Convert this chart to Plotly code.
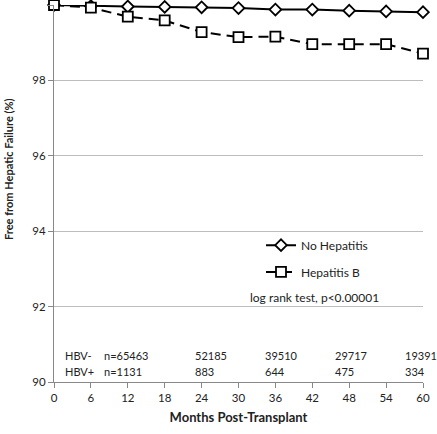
import plotly.graph_objects as go

months = [0, 6, 12, 18, 24, 30, 36, 42, 48, 54, 60]
no_hep = [100, 99.97, 99.96, 99.95, 99.94, 99.92, 99.88, 99.88, 99.85, 99.83, 99.81]
hep_b = [100, 99.93, 99.69, 99.59, 99.28, 99.15, 99.16, 98.96, 98.96, 98.96, 98.71]

risk_x = [22.6, 34.0, 45.3, 56.7]
hbv_neg = ["52185", "39510", "29717", "19391"]
hbv_pos = ["883", "644", "475", "334"]

FONT = "Lato, 'Open Sans', sans-serif"
TXT = "#222"
fig = go.Figure()
fig.add_trace(go.Scatter(
    x=months, y=no_hep, name="No Hepatitis", mode="lines+markers",
    line=dict(color="black", width=2),
    marker=dict(symbol="diamond", size=9, color="white", line=dict(color="black", width=1.8)),
    cliponaxis=False, legend="legend"))
fig.add_trace(go.Scatter(
    x=months, y=hep_b, name="Hepatitis B", mode="lines+markers",
    line=dict(color="black", width=2, dash="10px,6px"),
    marker=dict(symbol="square", size=10, color="white", line=dict(color="black", width=1.8)),
    cliponaxis=False, legend="legend2"))

ann = []
ann.append(dict(x=1.4, y=90.71, text="HBV-", xanchor="left"))
ann.append(dict(x=1.4, y=90.29, text="HBV+", xanchor="left"))
ann.append(dict(x=7.8, y=90.71, text="n=65463", xanchor="left"))
ann.append(dict(x=7.8, y=90.29, text="n=1131", xanchor="left"))
for xv, a, b in zip(risk_x, hbv_neg, hbv_pos):
    ann.append(dict(x=xv, y=90.71, text=a, xanchor="left"))
    ann.append(dict(x=xv, y=90.29, text=b, xanchor="left"))
for a in ann:
    a.update(xref="x", yref="y", showarrow=False, yanchor="middle",
             font=dict(family=FONT, size=11, color=TXT))
ann.append(dict(x=42.4, y=92.24, text="log rank test, p<0.00001", xanchor="center",
                xref="x", yref="y", showarrow=False, yanchor="middle",
                font=dict(family=FONT, size=12, color=TXT)))
# y-axis title (placed as in the reference, above the axis centre)
pw, ph = 437 - 54 - 14, 434 - 5 - 52
ann.append(dict(x=(8 - 54) / pw, xref="paper", y=1 - (169 - 5) / ph, yref="paper",
                text="<b>Free from Hepatic Failure (%)</b>",
                textangle=-90, showarrow=False, xanchor="center", yanchor="middle",
                font=dict(family=FONT, size=11, color=TXT)))

fig.update_layout(
    width=437, height=434,
    margin=dict(l=54, r=14, t=5, b=52),
    paper_bgcolor="white", plot_bgcolor="white",
    font=dict(family=FONT, size=12, color=TXT),
    annotations=ann,
    showlegend=True,
    legend=dict(x=0.561, y=0.363, xanchor="left", yanchor="middle", bgcolor="rgba(0,0,0,0)",
                font=dict(family=FONT, size=12, color=TXT), itemwidth=30),
    legend2=dict(x=0.561, y=0.292, xanchor="left", yanchor="middle", bgcolor="rgba(0,0,0,0)",
                 font=dict(family=FONT, size=12, color=TXT), itemwidth=30),
    xaxis=dict(range=[0, 60], tickvals=months, ticks="outside", ticklen=5, tickcolor="#888",
               tickfont=dict(family=FONT, size=11.5, color=TXT),
               showline=True, linecolor="#888", linewidth=1, showgrid=False, zeroline=False,
               title=dict(text="<b>Months Post-Transplant</b>", standoff=10,
                          font=dict(family=FONT, size=13, color=TXT))),
    yaxis=dict(range=[90, 100], tickvals=[90, 92, 94, 96, 98, 100], ticks="outside", ticklen=5,
               tickcolor="#888", tickfont=dict(family=FONT, size=11.5, color=TXT),
               showline=True, linecolor="#888", linewidth=1,
               showgrid=True, gridcolor="#bdbdbd", gridwidth=1, zeroline=False),
)
fig.write_html("out.html", config={"displayModeBar": False},
               post_script="document.body.style.margin='0';document.body.style.overflow='hidden';")
